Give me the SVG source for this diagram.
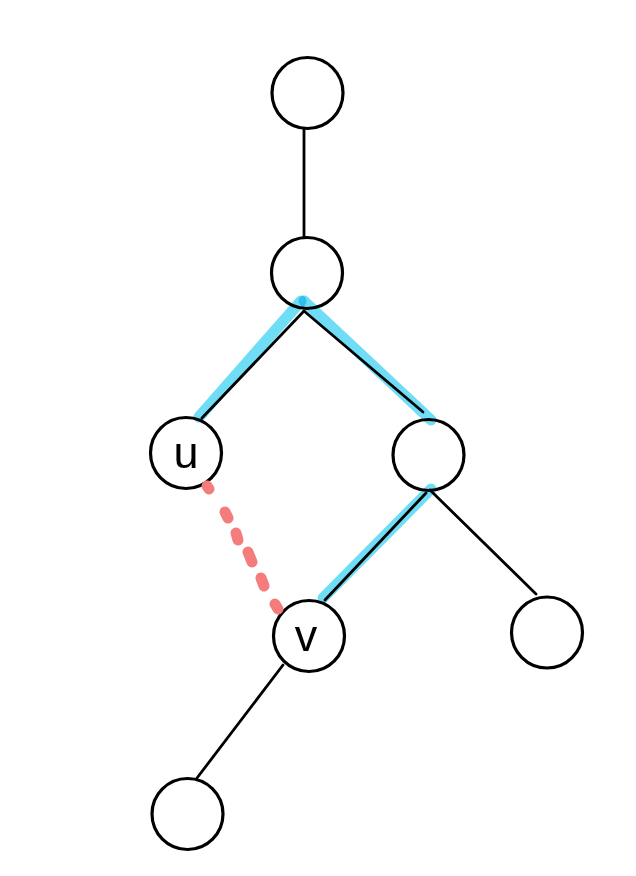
<svg xmlns="http://www.w3.org/2000/svg" width="636" height="876" viewBox="0 0 636 876">
<style>
.node circle{fill:#fff;stroke:#000;stroke-width:3.2}
.edge{stroke:#000;stroke-width:2.8;fill:none;stroke-linecap:round}
.hl{stroke:#6FDDF6;stroke-width:11;fill:none;stroke-linecap:round;mix-blend-mode:multiply}
.red{stroke:#F47C7C;stroke-width:11;fill:none;stroke-linecap:round}
.lbl{font-family:"Liberation Sans",Arial,sans-serif;font-size:45px;fill:#000;text-anchor:middle}
</style>
<rect width="636" height="876" fill="#fff"/>
<g id="n1" class="node"><circle cx="307.5" cy="93" r="35.5"/></g>
<g id="n2" class="node"><circle cx="307" cy="273" r="35.5"/></g>
<g id="u" class="node"><circle cx="186" cy="453" r="35.5"/><text class="lbl" x="186" y="468">u</text></g>
<g id="n4" class="node"><circle cx="428.5" cy="455" r="35.5"/></g>
<g id="v" class="node"><circle cx="309" cy="636" r="35.5"/><text class="lbl" x="306" y="651">v</text></g>
<g id="n6" class="node"><circle cx="547" cy="632.5" r="35.5"/></g>
<g id="n7" class="node"><circle cx="187.5" cy="814" r="35.5"/></g>
<g id="connectors">
<path class="hl" d="M301,301 L199,417"/>
<path class="hl" d="M304,301 L431,420"/>
<path class="hl" d="M431,489 L323,598"/>
<line class="edge" x1="304" y1="129" x2="304" y2="237"/>
<line class="edge" x1="304" y1="311" x2="202" y2="418"/>
<line class="edge" x1="304" y1="311" x2="423" y2="412"/>
<line class="edge" x1="426" y1="493" x2="325" y2="600"/>
<line class="edge" x1="430" y1="490" x2="536" y2="594"/>
<line class="edge" x1="283" y1="665" x2="197" y2="778"/>
<path class="red" d="M207,486 L209,489 M225,512 L228,518 M236,533 L238,540 M248,552 L252,562 M261,578 L264,586 M275,604 L278,609"/>
</g>
</svg>
